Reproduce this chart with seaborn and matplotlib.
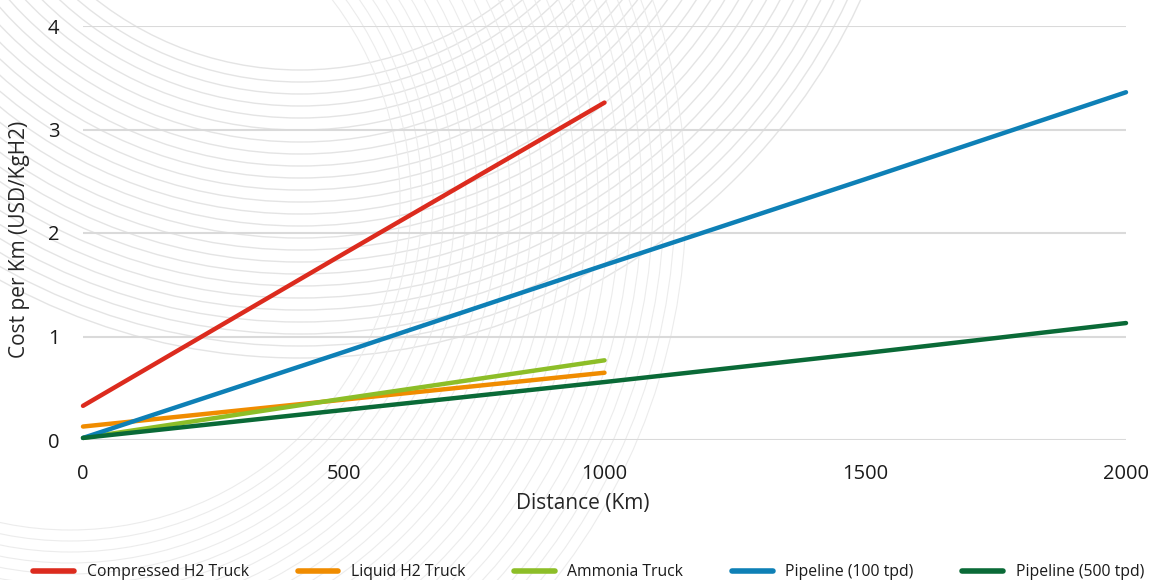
import matplotlib
matplotlib.use("Agg")
import matplotlib.pyplot as plt
from matplotlib.patches import Circle
import seaborn as sns
import pandas as pd
import numpy as np

# values (USD/kgH2 vs distance in km)
truck_km = [0, 500, 1000]
pipe_km = [0, 500, 1000, 1500, 2000]

compressed_h2 = [0.33, 1.80, 3.26]
liquid_h2 = [0.13, 0.39, 0.65]
ammonia = [0.02, 0.40, 0.77]
pipe_100 = [0.02, 0.85, 1.69, 2.52, 3.36]
pipe_500 = [0.02, 0.29, 0.56, 0.84, 1.13]

series_names = ["Compressed H2 Truck", "Liquid H2 Truck", "Ammonia Truck",
                "Pipeline (100 tpd)", "Pipeline (500 tpd)"]
series_colors = ["#dc2b1e", "#f08c00", "#8dbe28", "#0e80b6", "#0a6a37"]

frames = []
for name, xs, ys in zip(series_names,
                        [truck_km, truck_km, truck_km, pipe_km, pipe_km],
                        [compressed_h2, liquid_h2, ammonia, pipe_100, pipe_500]):
    frames.append(pd.DataFrame({"Distance": xs, "Cost": ys, "Mode": name}))
df = pd.concat(frames, ignore_index=True)

sns.set_style("white")
plt.rcParams['font.family'] = ['Open Sans', 'DejaVu Sans']
plt.rcParams['text.color'] = '#1a1a1a'

fig = plt.figure(figsize=(11.5, 5.8), dpi=100)

# decorative background arcs (pixel space of the figure)
bg = fig.add_axes([0, 0, 1, 1], zorder=0)
bg.set_xlim(0, 1150)
bg.set_ylim(580, 0)
bg.axis("off")
for r in np.arange(330, 625, 12):
    bg.add_patch(Circle((300, -260), r, fill=False, ec="#e4e4e4", lw=1.0))
for r in np.arange(330, 620, 11):
    bg.add_patch(Circle((70, 200), r, fill=False, ec="#ececec", lw=0.8))

ax = fig.add_axes([83 / 1150, 1 - 440 / 580, 1043 / 1150, 414 / 580], zorder=1)
ax.patch.set_alpha(0)

sns.lineplot(data=df, x="Distance", y="Cost", hue="Mode",
             palette=dict(zip(series_names, series_colors)),
             linewidth=3.2, ax=ax, clip_on=False, solid_capstyle="round")

ax.set_xlim(0, 2000)
ax.set_ylim(0, 4)
ax.set_xticks([0, 500, 1000, 1500, 2000])
ax.set_yticks([0, 1, 2, 3, 4])
ax.tick_params(axis="both", length=0, labelsize=14.5, colors="#1a1a1a")
ax.tick_params(axis="x", pad=17)
ax.tick_params(axis="y", pad=17)
ax.grid(axis="y", color="#dadada", lw=1.5)
ax.grid(axis="x", visible=False)
sns.despine(ax=ax, left=True, bottom=True)

ax.set_xlabel("Distance (Km)", fontsize=15)
ax.set_ylabel("Cost per Km (USD/KgH2)", fontsize=15)
ax.xaxis.set_label_coords((583 - 83) / 1043, (440 - 503) / 414)
ax.xaxis.label.set_va("center")
ax.yaxis.set_label_coords((20 - 83) / 1043, (440 - 239) / 414)
ax.yaxis.label.set_va("center")

handles, labels = ax.get_legend_handles_labels()
ax.get_legend().remove()
leg = fig.legend(handles, labels, loc="center", bbox_to_anchor=(0.512, 1 - 572 / 580),
                 ncol=5, frameon=False, fontsize=11.3, handlelength=2.6,
                 handletextpad=0.8, columnspacing=3.1, borderpad=0)
for line in leg.get_lines():
    line.set_linewidth(4)
    line.set_solid_capstyle("round")

fig.savefig("out.png", dpi=100)
